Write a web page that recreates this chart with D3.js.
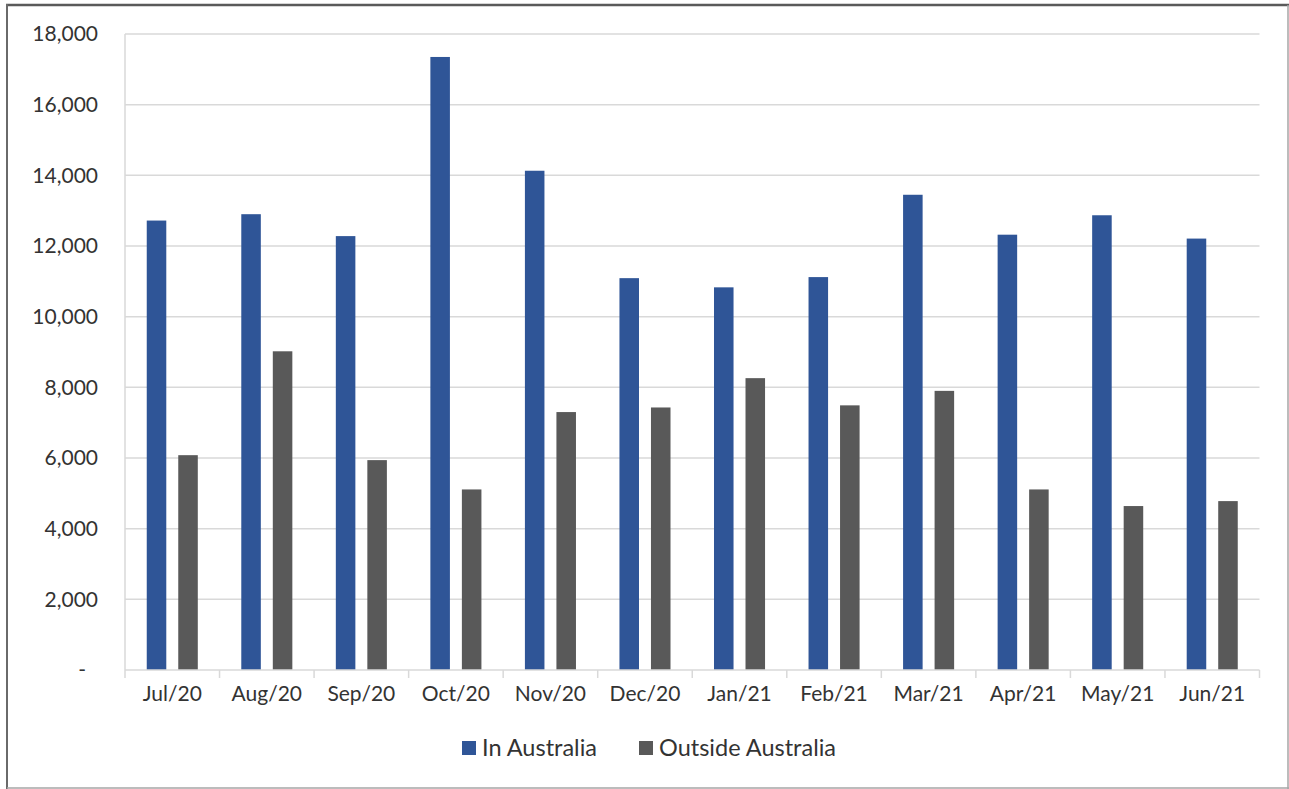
<!DOCTYPE html>
<html>
<head>
<meta charset="utf-8">
<script src="https://cdn.jsdelivr.net/npm/d3@7"></script>
<style>
  body { margin: 0; background: #fff; }
  text { font-family: Lato, "Liberation Sans", sans-serif; fill: #333333; }
</style>
</head>
<body>
<div id="chart"></div>
<script>
// Chart data
const months = ['Jul/20', 'Aug/20', 'Sep/20', 'Oct/20', 'Nov/20', 'Dec/20',
                'Jan/21', 'Feb/21', 'Mar/21', 'Apr/21', 'May/21', 'Jun/21'];
const seriesNames = ['In Australia', 'Outside Australia'];
const inAustralia = [12720, 12900, 12280, 17350, 14130, 11090, 10830, 11120, 13450, 12320, 12870, 12210];
const outsideAustralia = [6080, 9020, 5940, 5110, 7300, 7430, 8260, 7490, 7900, 5110, 4640, 4780];
const yTicks = [0, 2000, 4000, 6000, 8000, 10000, 12000, 14000, 16000, 18000];
const colors = ['#2f5597', '#595959'];

const W = 1289, H = 789;
const margin = { top: 34, right: 29, bottom: 119, left: 125 };

const svg = d3.select('#chart')
    .append('svg')
    .attr('width', W)
    .attr('height', H);

// Outer frame (darker on top/left like the screenshot)
svg.append('line').attr('x1', 6).attr('x2', 1289).attr('y1', 5).attr('y2', 5)
    .attr('stroke', '#5a5a5a').attr('stroke-width', 2.5);
svg.append('line').attr('x1', 7).attr('x2', 7).attr('y1', 4).attr('y2', 789)
    .attr('stroke', '#6a6a6a').attr('stroke-width', 2);
svg.append('line').attr('x1', 1288).attr('x2', 1288).attr('y1', 5).attr('y2', 789)
    .attr('stroke', '#a6a6a6').attr('stroke-width', 1.5);
svg.append('line').attr('x1', 7).attr('x2', 1289).attr('y1', 788).attr('y2', 788)
    .attr('stroke', '#a6a6a6').attr('stroke-width', 1.5);

// Scales
const x0 = d3.scaleBand()
    .domain(months)
    .range([margin.left, W - margin.right - 0.5])
    .padding(0);

const x1 = d3.scaleBand()
    .domain(seriesNames)
    .range([0, x0.bandwidth()])
    .paddingInner(0.38)
    .paddingOuter(0.69);

const yScale = d3.scaleLinear()
    .domain([0, 18000])
    .range([H - margin.bottom, margin.top]);

// Gridlines
svg.append('g')
    .selectAll('line')
    .data(yTicks.filter(d => d > 0))
    .join('line')
    .attr('x1', margin.left)
    .attr('x2', x0.range()[1])
    .attr('y1', d => yScale(d))
    .attr('y2', d => yScale(d))
    .attr('stroke', '#d9d9d9')
    .attr('stroke-width', 1.5);

// Left vertical axis line
svg.append('line')
    .attr('x1', margin.left).attr('x2', margin.left)
    .attr('y1', yScale(18000)).attr('y2', yScale(0))
    .attr('stroke', '#d9d9d9').attr('stroke-width', 1.5);

// Y labels (zero shown as "-", accounting style)
svg.append('g')
    .selectAll('text')
    .data(yTicks)
    .join('text')
    .attr('x', d => d === 0 ? 86 : 98)
    .attr('y', d => yScale(d))
    .attr('dy', '0.35em')
    .attr('text-anchor', 'end')
    .attr('font-size', 21)
    .text(d => d === 0 ? '-' : d3.format(',')(d));

// Bars
const rows = months.map((m, i) => ({ month: m, values: [inAustralia[i], outsideAustralia[i]] }));
const groups = svg.append('g')
    .selectAll('g')
    .data(rows)
    .join('g')
    .attr('transform', d => `translate(${x0(d.month)},0)`);

groups.selectAll('rect')
    .data(d => d.values.map((v, j) => ({ key: seriesNames[j], value: v, idx: j })))
    .join('rect')
    .attr('x', d => x1(d.key))
    .attr('y', d => yScale(d.value))
    .attr('width', x1.bandwidth())
    .attr('height', d => yScale(0) - yScale(d.value))
    .attr('fill', d => colors[d.idx]);

// X axis line + tick marks at category boundaries
svg.append('line')
    .attr('x1', margin.left).attr('x2', x0.range()[1])
    .attr('y1', yScale(0)).attr('y2', yScale(0))
    .attr('stroke', '#d9d9d9').attr('stroke-width', 1.5);

svg.append('g')
    .selectAll('line')
    .data(months.map(m => x0(m)).concat([x0.range()[1]]))
    .join('line')
    .attr('x1', d => d).attr('x2', d => d)
    .attr('y1', yScale(0)).attr('y2', yScale(0) + 8)
    .attr('stroke', '#d9d9d9').attr('stroke-width', 1.5);

// X labels
svg.append('g')
    .selectAll('text')
    .data(months)
    .join('text')
    .attr('x', d => x0(d) + x0.bandwidth() / 2)
    .attr('y', 694)
    .attr('dy', '0.35em')
    .attr('text-anchor', 'middle')
    .attr('font-size', 21)
    .text(d => d);

// Legend
const legendX = [462, 639];
const legend = svg.append('g')
    .selectAll('g')
    .data(seriesNames)
    .join('g')
    .attr('transform', (d, i) => `translate(${legendX[i]}, 748)`);
legend.append('rect')
    .attr('x', 0).attr('y', -7)
    .attr('width', 14).attr('height', 14)
    .attr('fill', (d, i) => colors[i]);
legend.append('text')
    .attr('x', 20)
    .attr('dy', '0.35em')
    .attr('font-size', 23.5)
    .text(d => d);
</script>
</body>
</html>
